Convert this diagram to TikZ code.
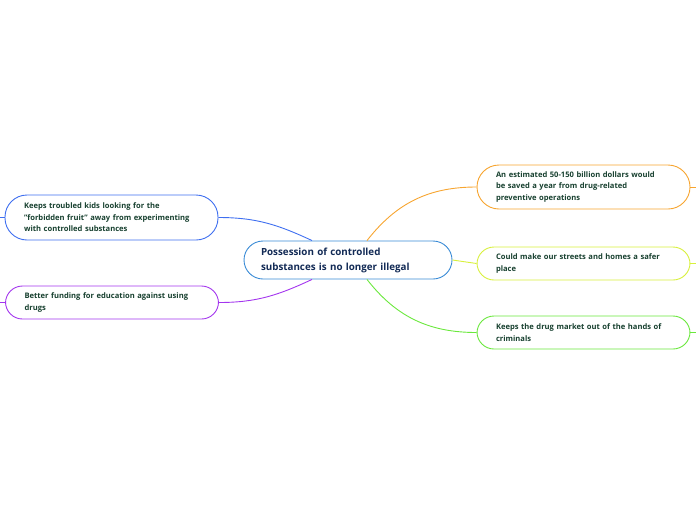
\documentclass[tikz,border=0pt]{standalone}
\usepackage{fontspec}
\setmainfont{Open Sans}
\usetikzlibrary{positioning,calc}
\definecolor{hubline}{HTML}{3A8BD6}
\definecolor{hubtext}{HTML}{122A55}
\definecolor{leaftext}{HTML}{17402F}
\definecolor{saved}{HTML}{F7A530}
\definecolor{safer}{HTML}{D8F03C}
\definecolor{market}{HTML}{6AE83C}
\definecolor{kids}{HTML}{3F6FF0}
\definecolor{funding}{HTML}{A335EE}

\tikzset{
  hubbox/.style={draw=hubline,line width=0.9pt,rounded corners=19pt,fill=white,
    text=hubtext,font=\fontsize{9.8}{15}\selectfont\bfseries,align=left,
    text width=174pt,inner xsep=17pt,minimum height=38pt},
  leafbox/.style={draw=#1,line width=0.9pt,rounded corners=17pt,fill=white,
    text=leaftext,font=\fontsize{7.6}{11.5}\selectfont\bfseries,align=left,
    text width=175pt,inner xsep=19pt,minimum height=33pt},
  link/.style={draw=#1,line width=0.9pt}
}

\begin{document}
\begin{tikzpicture}[x=1pt,y=-1pt]
  \useasboundingbox (0,0) rectangle (696,520);

  % central topic
  \node[hubbox] (hub) at (348,260) {Possession of controlled\\substances is no longer illegal};

  % right branches
  \node[leafbox=saved,minimum height=44pt,rounded corners=22pt] (saved) at (583.5,187)
    {An estimated 50-150 billion dollars would\\be saved a year from drug-related\\preventive operations};
  \node[leafbox=safer] (safer) at (583.5,263.5) {Could make our streets and homes a safer\\place};
  \node[leafbox=market] (market) at (583.5,332.5) {Keeps the drug market out of the hands of\\criminals};

  % left branches
  \node[leafbox=kids,minimum height=45pt,rounded corners=22pt] (kids) at (111.5,217.5)
    {Keeps troubled kids looking for the\\"forbidden fruit" away from experimenting\\with controlled substances};
  \node[leafbox=funding] (funding) at (112,302.5) {Better funding for education against using\\drugs};

  % connectors
  \draw[link=saved] ([xshift=19pt]hub.north) to[out=52,in=180] (saved.west);
  \draw[link=safer] (hub.east) -- (safer.west);
  \draw[link=market] ([xshift=19pt]hub.south) to[out=-52,in=180] (market.west);
  \draw[link=kids] ([xshift=-36pt]hub.north) to[out=155,in=0] (kids.east);
  \draw[link=funding] ([xshift=-36pt]hub.south) to[out=-155,in=0] (funding.east);

  % stubs at the page edge
  \coordinate (savedend) at (696,187);
  \coordinate (saferend) at (696,263.5);
  \coordinate (marketend) at (696,332.5);
  \coordinate (kidsend) at (0,217.5);
  \coordinate (fundingend) at (0,302.5);
  \draw[link=saved] (saved.east) -- (savedend);
  \draw[link=safer] (safer.east) -- (saferend);
  \draw[link=market] (market.east) -- (marketend);
  \draw[link=kids] (kidsend) -- (kids.west);
  \draw[link=funding] (fundingend) -- (funding.west);
\end{tikzpicture}
\end{document}
